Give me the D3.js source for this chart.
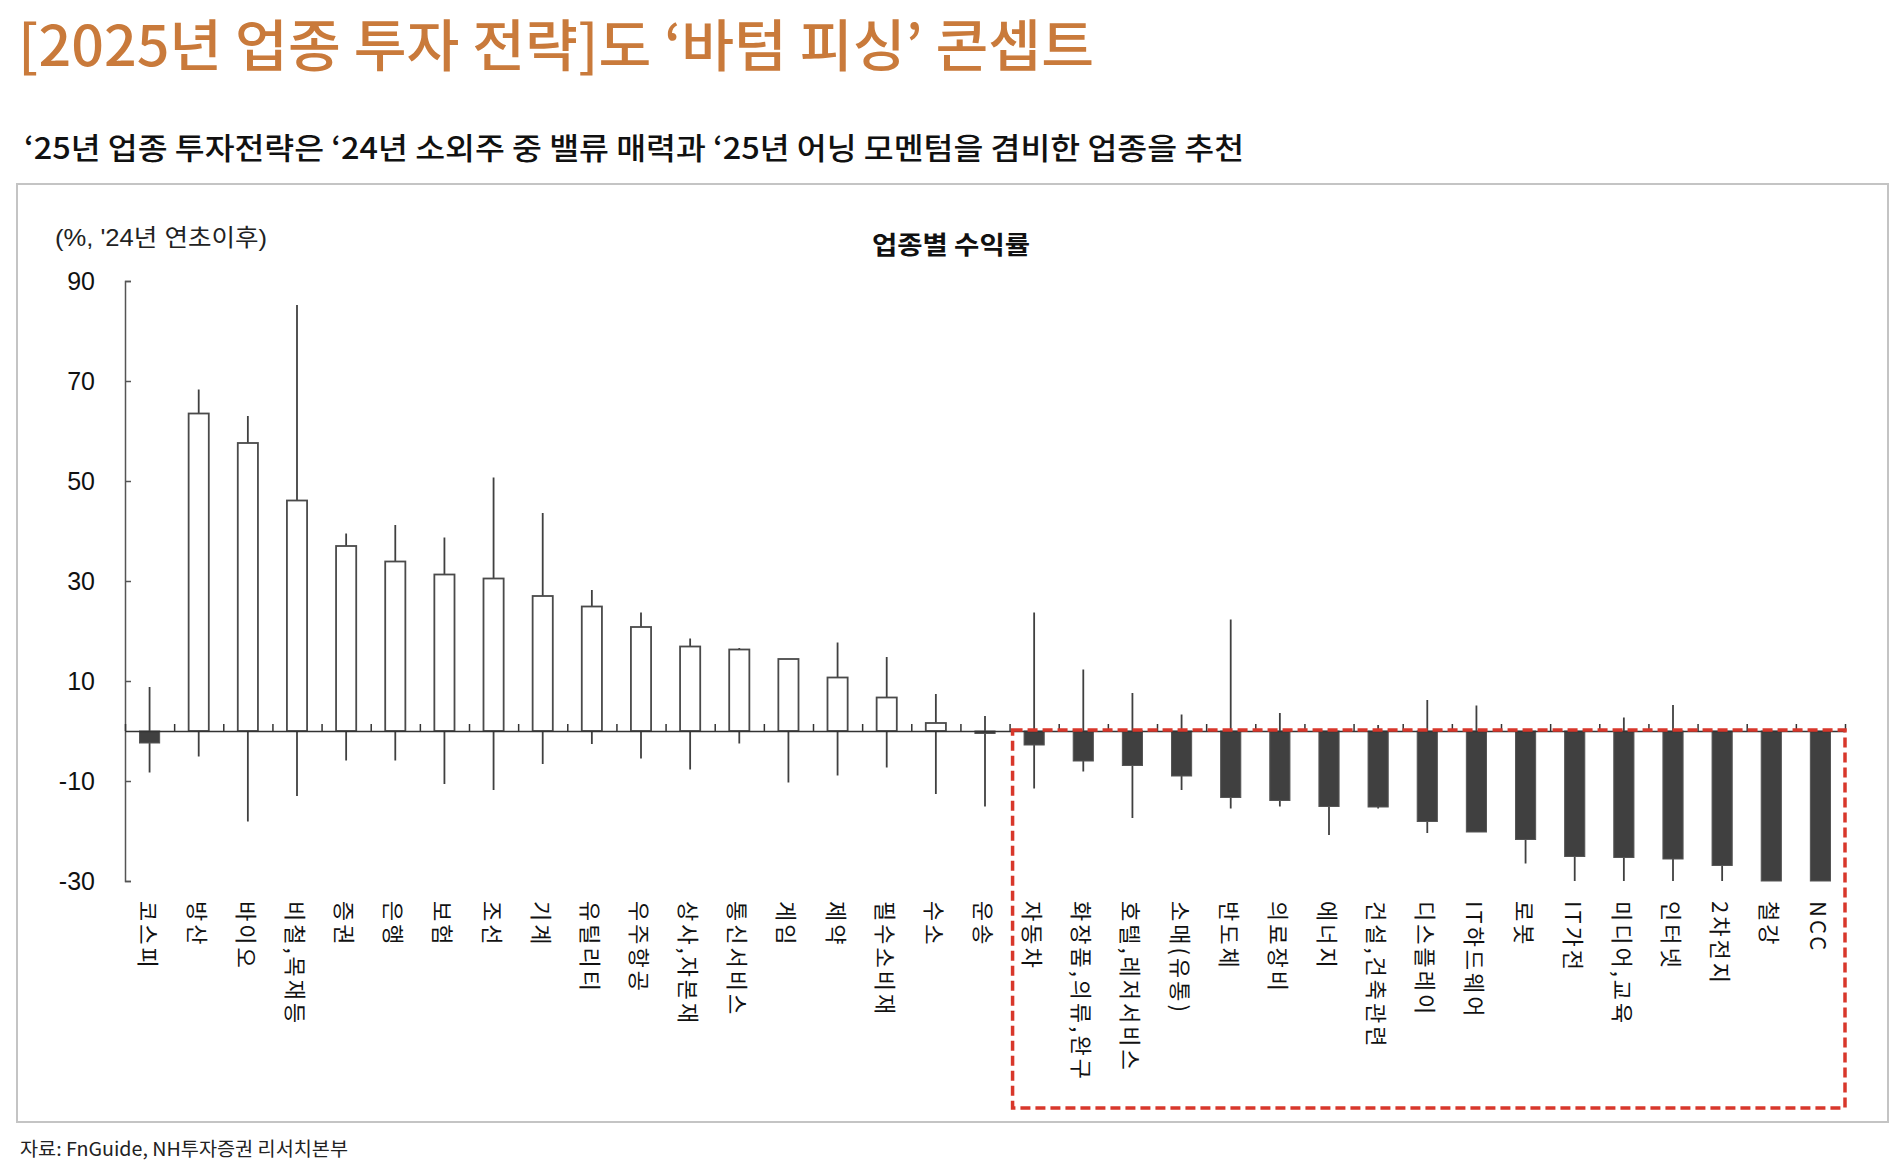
<!DOCTYPE html>
<html>
<head>
<meta charset="utf-8">
<script src="https://cdn.jsdelivr.net/npm/d3@7"></script>
<style>
  body { margin: 0; background: #fff; }
  svg { display: block; }
  text { font-family: "Noto Sans CJK KR", "Noto Sans", sans-serif; }
</style>
</head>
<body>
<svg id="chart"></svg>
<script>
// 업종별 수익률 ('24년 연초이후, %)
var categories = ["코스피", "방산", "바이오", "비철,목재등", "증권", "은행", "보험", "조선", "기계",
    "유틸리티", "우주항공", "상사,자본재", "통신서비스", "게임", "제약", "필수소비재", "수소", "운송",
    "자동차", "화장품,의류,완구", "호텔,레저서비스", "소매(유통)", "반도체", "의료장비", "에너지",
    "건설,건축관련", "디스플레이", "IT하드웨어", "로봇", "IT가전", "미디어,교육", "인터넷", "2차전지",
    "철강", "NCC"];
var returns = [-2.4, 63.5, 57.6, 46.1, 37.0, 33.9, 31.3, 30.5, 27.0,
    24.9, 20.8, 16.9, 16.3, 14.4, 10.7, 6.7, 1.6, -0.5,
    -2.8, -6.0, -6.9, -9.0, -13.3, -13.9, -15.1,
    -15.2, -18.1, -20.2, -21.7, -25.1, -25.3, -25.6, -26.9,
    -30.0, -30.0];
var highs = [8.8, 68.3, 63.0, 85.2, 39.5, 41.2, 38.7, 50.7, 43.6,
    28.2, 23.7, 18.5, 16.6, 14.4, 17.7, 14.8, 7.4, 3.0,
    23.7, 12.3, 7.6, 3.3, 22.3, 3.6, 0,
    1.2, 6.2, 5.1, 0, 0, 2.7, 5.2, 0,
    0, 0];
var lows = [-8.3, -5.1, -18.1, -13.0, -5.9, -5.9, -10.6, -11.8, -6.6,
    -2.6, -5.5, -7.7, -2.5, -10.3, -8.9, -7.3, -12.6, -15.1,
    -11.5, -8.1, -17.4, -11.8, -15.5, -15.1, -20.8,
    -15.5, -20.4, -20.2, -26.5, -30, -30, -30, -30,
    -30, -30];
var yTicks = [90, 70, 50, 30, 10, -10, -30];
var highlightFrom = 18; // 자동차 ~ NCC

var W = 1900, H = 1173;
var svg = d3.select("#chart").attr("width", W).attr("height", H);

var data = categories.map(function(c, i) {
    return {name: c, value: returns[i], high: highs[i], low: lows[i]};
});

// headers
svg.append("text")
    .attr("x", 18).attr("y", 66)
    .attr("textLength", 1076).attr("lengthAdjust", "spacingAndGlyphs")
    .style("font-size", "56px").style("font-weight", 500)
    .style("fill", "#c97a3b")
    .text("[2025년 업종 투자 전략]도 ‘바텀 피싱’ 콘셉트");

svg.append("text")
    .attr("x", 24).attr("y", 159)
    .attr("textLength", 1220).attr("lengthAdjust", "spacingAndGlyphs")
    .style("font-size", "30px").style("font-weight", 500)
    .style("fill", "#111")
    .text("‘25년 업종 투자전략은 ‘24년 소외주 중 밸류 매력과 ‘25년 어닝 모멘텀을 겸비한 업종을 추천");

// chart frame
svg.append("rect")
    .attr("x", 17).attr("y", 184).attr("width", 1871).attr("height", 938)
    .attr("fill", "none").attr("stroke", "#c4c4c4").attr("stroke-width", 2);

var x = d3.scaleBand()
    .domain(categories)
    .range([125, 1845])
    .paddingInner(0.59)
    .paddingOuter(0.295);

var xi = d3.scaleLinear().domain([0, categories.length]).range([125, 1845]);

var y = d3.scaleLinear()
    .domain([-30, 90])
    .range([881, 281]);

svg.append("text")
    .attr("x", 55).attr("y", 246)
    .attr("textLength", 212).attr("lengthAdjust", "spacingAndGlyphs")
    .style("font-family", "'Liberation Sans', 'Noto Sans CJK KR', sans-serif")
    .style("font-size", "24px").style("fill", "#222")
    .text("(%, '24년 연초이후)");

svg.append("text")
    .attr("x", 951).attr("y", 254)
    .attr("text-anchor", "middle")
    .attr("textLength", 158).attr("lengthAdjust", "spacingAndGlyphs")
    .style("font-size", "25px").style("font-weight", 700).style("fill", "#111")
    .text("업종별 수익률");

// y axis
var yAxis = svg.append("g")
    .attr("transform", "translate(125,0)")
    .call(d3.axisLeft(y).tickValues(yTicks).tickFormat(d => String(d))
        .tickSize(-6).tickSizeOuter(-6).tickPadding(30));
yAxis.select(".domain").attr("stroke", "#555").attr("stroke-width", 1.5);
yAxis.selectAll(".tick line").attr("stroke", "#555").attr("stroke-width", 1.5);
yAxis.selectAll(".tick text")
    .style("font-family", "'Liberation Sans', Arial, sans-serif")
    .style("font-size", "25px").style("fill", "#111");

// whiskers
svg.selectAll(".whisker")
    .data(data)
    .enter()
    .append("line")
    .attr("class", "whisker")
    .attr("x1", d => x(d.name) + x.bandwidth() / 2)
    .attr("x2", d => x(d.name) + x.bandwidth() / 2)
    .attr("y1", d => y(d.high))
    .attr("y2", d => y(d.low))
    .attr("stroke", "#404040")
    .attr("stroke-width", 1.8);

// bars
svg.selectAll(".bar")
    .data(data)
    .enter()
    .append("rect")
    .attr("class", "bar")
    .attr("x", d => x(d.name))
    .attr("y", d => y(Math.max(0, d.value)))
    .attr("width", x.bandwidth())
    .attr("height", d => Math.abs(y(d.value) - y(0)))
    .attr("fill", d => d.value < 0 ? "#404040" : "#fff")
    .attr("stroke", d => d.value < 0 ? "#555" : "#4a4a4a")
    .attr("stroke-width", d => d.value < 0 ? 1 : 1.8);

// x axis at zero with upward ticks between categories
var xAxis = svg.append("g")
    .attr("transform", "translate(0," + y(0) + ")")
    .call(d3.axisBottom(xi).tickValues(d3.range(categories.length + 1)).tickSize(-7).tickSizeOuter(0).tickFormat(""));
xAxis.select(".domain").attr("stroke", "#333").attr("stroke-width", 1.5);
xAxis.selectAll(".tick line").attr("stroke", "#333").attr("stroke-width", 1.5);

// category labels, vertical
svg.selectAll(".cat")
    .data(categories)
    .enter()
    .append("text")
    .attr("class", "cat")
    .attr("transform", d => "translate(" + (x(d) + x.bandwidth() / 2) + ",901) rotate(90)")
    .attr("dominant-baseline", "central")
    .style("font-size", "22px")
    .style("letter-spacing", "3px")
    .style("fill", "#111")
    .text(d => d);

// highlight box
svg.append("rect")
    .attr("x", xi(highlightFrom) + 3)
    .attr("y", y(0) - 1)
    .attr("width", xi(categories.length) - xi(highlightFrom) - 3)
    .attr("height", 1108 - y(0) + 1)
    .attr("fill", "none")
    .attr("stroke", "#d8372b")
    .attr("stroke-width", 3.5)
    .attr("stroke-dasharray", "10,5");

// source
svg.append("text")
    .attr("x", 20).attr("y", 1156)
    .attr("textLength", 328).attr("lengthAdjust", "spacingAndGlyphs")
    .style("font-size", "19px").style("fill", "#222")
    .text("자료: FnGuide, NH투자증권 리서치본부");
</script>
</body>
</html>
